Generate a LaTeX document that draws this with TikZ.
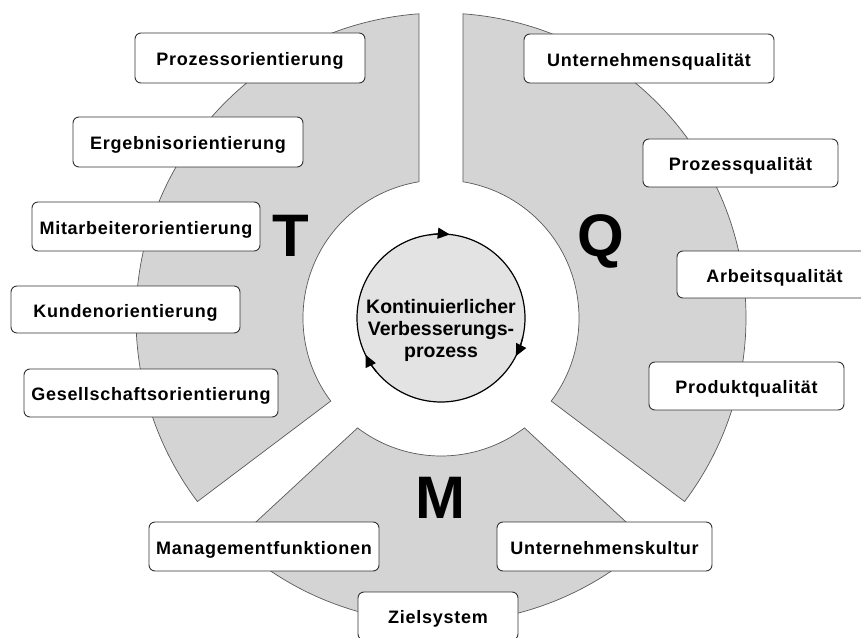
\documentclass[tikz,border=0pt]{standalone}
\usepackage{fontspec}
\setmainfont{Liberation Sans}
\newfontfamily\boxfont{Liberation Sans}[LetterSpace=4]
\usetikzlibrary{arrows.meta}
\colorlet{sectorBg}{black!17}
\colorlet{sectorBorder}{black!65}
\colorlet{cycleBg}{black!11}
\colorlet{boxBorder}{black!80}
\tikzset{
sectorstyle/.style={fill=sectorBg, draw=sectorBorder, line width=0.7pt},
boxstyle/.style={rectangle, rounded corners=6pt, draw=boxBorder, fill=white, line width=0.9pt, inner sep=0pt, text height=17.5pt, text depth=1.6pt, font=\boxfont\bfseries\fontsize{18}{21}\selectfont},
letterstyle/.style={anchor=base, inner sep=0pt, font=\bfseries\fontsize{60}{60}\selectfont}
}
\newcommand{\ringpart}[4]{
  \draw [sectorstyle] (#1:305) arc [start angle=#1, end angle=#2, radius=305] -- (#3:138) arc [start angle=#3, end angle=#4, radius=138] -- cycle;
}
\newcommand{\qbox}[6]{
  \node [boxstyle, minimum width=#4pt, minimum height=#5pt] (#1) at (#2,#3) {#6};
}
\begin{document}
\begin{tikzpicture}[x=1pt, y=1pt]
\useasboundingbox (-441,-319) rectangle (420,318);
\clip (-441,-319) rectangle (420,318);

\ringpart{94.14}{217}{217}{99.17}
\ringpart{85.86}{-37}{-37}{80.83}
\ringpart{227.3}{312.7}{307.2}{232.8}

\node [circle, draw, line width=1.2pt, fill=cycleBg, minimum size=168pt, inner sep=0pt] (kvp) at (0,0) {};
\foreach \a in {84,-27,206}
  \draw [line width=1.2pt, -{Triangle[length=12pt, width=11pt]}] (\a+14:84) arc [start angle=\a+14, end angle=\a, radius=84];
\node [align=center, inner sep=0pt, font=\bfseries\fontsize{19.5}{22}\selectfont] (kvptext) at (0,-12) {Kontinuierlicher\\Verbesserungs-\\prozess};

\node [letterstyle] (t) at (-150,62) {T};
\node [letterstyle] (q) at (160,62) {Q};
\node [letterstyle] (m) at (-1,-200) {M};

\qbox{prozor}{-191}{260}{230}{50}{Prozessorientierung}
\qbox{ergor}{-253}{176}{230}{50}{Ergebnisorientierung}
\qbox{mitor}{-295}{91.5}{228}{49}{Mitarbeiterorientierung}
\qbox{kunor}{-315.5}{8.5}{229}{47}{Kundenorientierung}
\qbox{gesor}{-290}{-75}{254}{48}{Gesellschaftsorientierung}

\qbox{untq}{208}{259.5}{250}{49}{Unternehmensqualität}
\qbox{prozq}{299.5}{155}{195}{48}{Prozessqualität}
\qbox{arbq}{333.5}{43.5}{195}{47}{Arbeitsqualität}
\qbox{prodq}{305.5}{-68}{195}{48}{Produktqualität}

\qbox{mgmt}{-177}{-228.5}{230}{49}{Managementfunktionen}
\qbox{kultur}{163.5}{-228.5}{215}{49}{Unternehmenskultur}
\qbox{ziel}{-3}{-298}{160}{48}{Zielsystem}
\end{tikzpicture}
\end{document}
